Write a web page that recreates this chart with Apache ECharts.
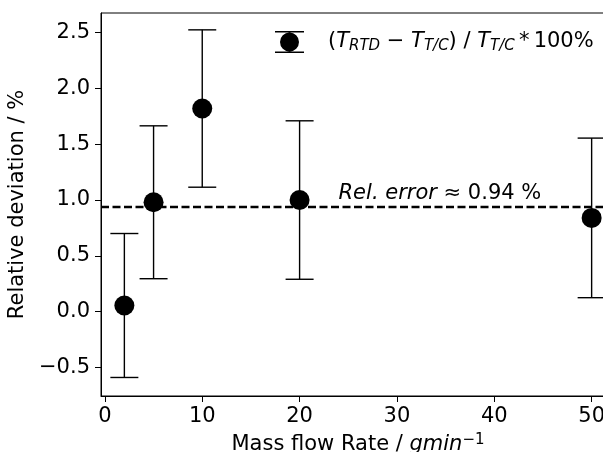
<!DOCTYPE html>
<html>
<head>
<meta charset="utf-8">
<script src="https://cdn.jsdelivr.net/npm/echarts@6/dist/echarts.min.js"></script>
<style>
  html, body { margin: 0; padding: 0; background: #fff; }
  #chart { width: 603px; height: 452px; }
</style>
</head>
<body>
<div id="chart"></div>
<script>
// Measured relative deviation between RTD and thermocouple readings
const massFlow = [2, 5, 10, 20, 50];                    // g/min
const relDeviation = [0.055, 0.98, 1.82, 1.00, 0.84];   // %
const deviationError = [0.645, 0.685, 0.705, 0.71, 0.715];
const meanRelError = [0.94];
const noteAnchor = [24, 1.0];

// Axis ranges and tick labels
const xRange = [-0.4, 52.4];
const yRange = [-0.756, 2.676];
const xTicks = [0, 10, 20, 30, 40, 50];
const yTicks = [-0.5, 0, 0.5, 1.0, 1.5, 2.0, 2.5];

const FONT = 'DejaVu Sans';
const INK = '#000';
const FS = 21;

const errorData = massFlow.map((x, i) => [x, relDeviation[i] - deviationError[i], relDeviation[i] + deviationError[i]]);
const pointData = massFlow.map((x, i) => [x, relDeviation[i]]);

const chart = echarts.init(document.getElementById('chart'), null, { renderer: 'canvas' });

const fmtY = v => {
  const s = Number(v).toFixed(1);
  return s.startsWith('-') ? '\u2212' + s.slice(1) : s;
};

const option = {
  animation: false,
  backgroundColor: '#fff',
  textStyle: { fontFamily: FONT },
  grid: {
    left: 101, top: 13, width: 514, height: 383,
    containLabel: false, outerBoundsMode: 'none',
    show: true, borderColor: INK, borderWidth: 1, backgroundColor: 'transparent'
  },
  legend: {
    left: 275, top: 31, padding: 0,
    itemWidth: 29, itemHeight: 22,
    icon: 'path://M0,0 H29 V1.4 H0 Z M0,20.6 H29 V22 H0 Z M5,11 A9.5,9.5 0 1,0 24,11 A9.5,9.5 0 1,0 5,11 Z',
    data: ['ratio'],
    formatter: () => '{p|(}{i|T}{s|RTD}{p| \u2212 }{i|T}{s|T/C}{p|) / }{i|T}{s|T/C}{p|\u2009*\u2009100%}',
    textStyle: {
      color: INK, fontFamily: FONT, fontSize: FS, padding: [0, 0, 0, 19],
      rich: {
        p: { fontSize: FS, fontFamily: FONT, color: INK, lineHeight: 24 },
        i: { fontSize: FS, fontFamily: FONT, fontStyle: 'italic', color: INK, lineHeight: 24 },
        s: { fontSize: 15, fontFamily: FONT, fontStyle: 'italic', color: INK, lineHeight: 15, verticalAlign: 'bottom' }
      }
    }
  },
  xAxis: {
    type: 'value', min: xRange[0], max: xRange[1],
    name: 'Mass flow Rate / {it|gmin}{sup|\u22121}',
    nameLocation: 'middle', nameGap: 37,
    nameTextStyle: {
      color: INK, fontFamily: FONT, fontSize: FS,
      rich: {
        it: { fontSize: FS, fontFamily: FONT, fontStyle: 'italic', color: INK, lineHeight: 24 },
        sup: { fontSize: 15, fontFamily: FONT, color: INK, lineHeight: 15, verticalAlign: 'top' }
      }
    },
    axisLine: { show: true, onZero: false, lineStyle: { color: INK, width: 1 } },
    axisTick: { show: true, length: 6, customValues: xTicks, lineStyle: { color: INK, width: 1 } },
    axisLabel: { customValues: xTicks, color: INK, fontFamily: FONT, fontSize: FS, margin: 10 },
    splitLine: { show: false }
  },
  yAxis: {
    type: 'value', min: yRange[0], max: yRange[1],
    name: 'Relative deviation / %',
    nameLocation: 'middle', nameGap: 66, nameRotate: 90,
    nameTextStyle: { color: INK, fontFamily: FONT, fontSize: FS },
    axisLine: { show: true, onZero: false, lineStyle: { color: INK, width: 1 } },
    axisTick: { show: true, length: 6, customValues: yTicks, lineStyle: { color: INK, width: 1 } },
    axisLabel: { customValues: yTicks, color: INK, fontFamily: FONT, fontSize: FS, margin: 11, formatter: fmtY },
    splitLine: { show: false }
  },
  series: [
    {
      // vertical error bars with caps
      type: 'custom',
      silent: true,
      z: 2,
      encode: { x: 0, y: [1, 2] },
      data: errorData,
      renderItem: (params, api) => {
        const x = api.value(0);
        const lo = api.coord([x, api.value(1)]);
        const hi = api.coord([x, api.value(2)]);
        const hw = 14;
        const st = { stroke: INK, lineWidth: 1.4 };
        return {
          type: 'group',
          children: [
            { type: 'line', shape: { x1: lo[0], y1: lo[1], x2: hi[0], y2: hi[1] }, style: st },
            { type: 'line', shape: { x1: lo[0] - hw, y1: lo[1], x2: lo[0] + hw, y2: lo[1] }, style: st },
            { type: 'line', shape: { x1: hi[0] - hw, y1: hi[1], x2: hi[0] + hw, y2: hi[1] }, style: st }
          ]
        };
      }
    },
    {
      name: 'ratio',
      type: 'scatter',
      z: 3,
      symbol: 'circle',
      symbolSize: 20,
      itemStyle: { color: INK, opacity: 1 },
      silent: true,
      data: pointData,
      markLine: {
        silent: true,
        symbol: ['none', 'none'],
        label: { show: false },
        lineStyle: { color: INK, type: [8, 3.5], width: 2.3, opacity: 1 },
        emphasis: { disabled: true },
        data: meanRelError.map(v => ({ yAxis: v }))
      }
    },
    {
      // annotation for the mean relative error
      type: 'custom',
      silent: true,
      z: 4,
      data: [noteAnchor],
      renderItem: (params, api) => {
        const p = api.coord([api.value(0), api.value(1)]);
        return {
          type: 'text',
          x: p[0], y: p[1] + 6,
          style: {
            text: '{i|Rel. error}{r| \u2248 ' + meanRelError[0].toFixed(2) + ' %}',
            align: 'left', verticalAlign: 'bottom',
            rich: {
              i: { fontSize: FS, fontFamily: FONT, fontStyle: 'italic', fill: INK, lineHeight: 24 },
              r: { fontSize: FS, fontFamily: FONT, fill: INK, lineHeight: 24 }
            }
          }
        };
      }
    }
  ]
};

chart.setOption(option);
</script>
</body>
</html>
